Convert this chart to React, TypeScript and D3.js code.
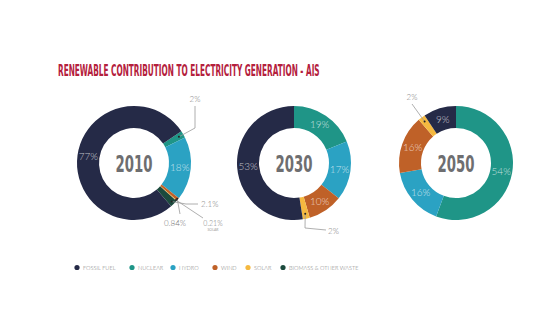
import React, { useLayoutEffect, useRef, useState } from "react";
import * as d3 from "d3";

const categories = ["FOSSIL FUEL", "NUCLEAR", "HYDRO", "WIND", "SOLAR", "BIOMASS & OTHER WASTE"];
const colors = ["#252a47", "#1f9587", "#2ba2c3", "#bf6128", "#f5b940", "#1c4a3d"];
const years = ["2010", "2030", "2050"];
const values2010 = [77, 2, 18, 0.84, 0.21, 2.1];
const values2030 = [53, 19, 17, 10, 2, 0];
const values2050 = [9, 54, 16, 16, 2, 0];
const insideLabels2010 = ["77%", "", "18%", "", "", ""];
const insideLabels2030 = ["53%", "19%", "17%", "10%", "", ""];
const insideLabels2050 = ["9%", "54%", "16%", "16%", "", ""];
const title = "RENEWABLE CONTRIBUTION TO ELECTRICITY GENERATION - AIS";

// drawing order of slices clockwise from start angle
const sliceOrder = [1, 2, 3, 4, 5, 0];

const W = 560;
const H = 322;
const cy = 163;
const centersX = [134, 294, 456];
const rOuter = 57;
const rInner = 35;
const startAngles = [0.98, 0, 0];
const narrow = "'Liberation Sans Narrow', 'DejaVu Sans Condensed', sans-serif";
const light = "Lato, 'Open Sans', sans-serif";

type Ann = { idx: number; r: number; pts: [number, number][]; text: string; tx: number; ty: number; anchor: string; sub?: string };

const annotations: Ann[][] = [
  [
    { idx: 1, r: 52, pts: [[195, 128], [195, 106]], text: "2%", tx: 195, ty: 102, anchor: "middle" },
    { idx: 5, r: 54, pts: [[186, 204], [198, 204]], text: "2.1%", tx: 201, ty: 207, anchor: "start" },
    { idx: 3, r: 56, pts: [[180, 214]], text: "0.84%", tx: 175, ty: 226, anchor: "middle" },
    { idx: 4, r: 56, pts: [[203, 218]], text: "0.21%", tx: 213, ty: 226, anchor: "middle", sub: "SOLAR" },
  ],
  [
    { idx: 4, r: 52, pts: [[305, 228], [326, 230]], text: "2%", tx: 328, ty: 234, anchor: "start" },
  ],
  [
    { idx: 4, r: 52, pts: [[412, 104]], text: "2%", tx: 412, ty: 100, anchor: "middle" },
  ],
];

// Text squeezed horizontally to a target width (measured after layout)
function FitText({ x, y, width, anchor, children, ...rest }: any) {
  const ref = useRef<SVGTextElement>(null);
  const [sx, setSx] = useState(1);
  useLayoutEffect(() => {
    if (ref.current) {
      const len = ref.current.getComputedTextLength();
      if (len > 0) setSx(width / len);
    }
  }, [width]);
  return (
    <g transform={`translate(${x},${y}) scale(${sx},1)`}>
      <text ref={ref} x={0} y={0} textAnchor={anchor} {...rest}>
        {children}
      </text>
    </g>
  );
}

function Donut({ k }: { k: number }) {
  const values = [values2010, values2030, values2050][k];
  const inside = [insideLabels2010, insideLabels2030, insideLabels2050][k];
  const cx = centersX[k];
  const pie = d3
    .pie<number>()
    .value((i) => values[i])
    .sort(null)
    .startAngle(startAngles[k])
    .endAngle(startAngles[k] + Math.PI * 2);
  const arcs = pie(sliceOrder);
  const arc = d3.arc<d3.PieArcDatum<number>>().innerRadius(rInner).outerRadius(rOuter);
  const labelArc = d3.arc<d3.PieArcDatum<number>>().innerRadius(46).outerRadius(46);
  const byIdx: Record<number, d3.PieArcDatum<number>> = {};
  arcs.forEach((a) => (byIdx[a.data] = a));
  return (
    <g>
      <g transform={`translate(${cx},${cy})`}>
        {arcs.map((a) => (
          <path key={a.data} d={arc(a) || ""} fill={colors[a.data]} />
        ))}
        {arcs.map((a) => {
          const t = inside[a.data];
          if (!t) return null;
          const [x, y] = labelArc.centroid(a);
          return (
            <text
              key={"l" + a.data}
              x={x}
              y={y}
              dy="0.36em"
              textAnchor="middle"
              fontFamily={light}
              fontWeight={300}
              fontSize={10}
              fill="#ffffff"
              fillOpacity={0.72}
            >
              {t}
            </text>
          );
        })}
        <FitText
          x={0}
          y={8.5}
          width={37}
          anchor="middle"
          fontFamily={narrow}
          fontWeight={700}
          fontSize={23.5}
          fill="#6e6e70"
        >
          {years[k]}
        </FitText>
      </g>
      {annotations[k].map((an, i) => {
        const a = byIdx[an.idx];
        const mid = (a.startAngle + a.endAngle) / 2;
        const ax = cx + an.r * Math.sin(mid);
        const ay = cy - an.r * Math.cos(mid);
        const pts: [number, number][] = [[ax, ay], ...an.pts];
        return (
          <g key={"a" + i}>
            <polyline points={pts.map((p) => p.join(",")).join(" ")} fill="none" stroke="#9a9a9a" strokeWidth={0.8} />
            <circle cx={ax} cy={ay} r={1} fill="#222" />
            <text
              x={an.tx}
              y={an.ty}
              textAnchor={an.anchor as any}
              fontFamily={light}
              fontWeight={300}
              fontSize={an.sub ? 7 : 8}
              fill="#7a7a7a"
            >
              {an.text}
            </text>
            {an.sub && (
              <text x={an.tx} y={an.ty + 5} textAnchor="middle" fontFamily={light} fontSize={3.5} fill="#9a9a9a">
                {an.sub}
              </text>
            )}
          </g>
        );
      })}
    </g>
  );
}

const legendX = [77, 132, 173, 215, 248, 283];

export default function App() {
  return (
    <svg width={W} height={H} style={{ position: "absolute", left: 0, top: 0, background: "#fff" }}>
      <FitText x={58} y={76} width={262} anchor="start" fontFamily={narrow} fontWeight={700} fontSize={16} fill="#b4203c">
        {title}
      </FitText>
      {years.map((_, k) => (
        <Donut key={k} k={k} />
      ))}
      {categories.map((c, i) => (
        <g key={c}>
          <circle cx={legendX[i]} cy={267.5} r={2.6} fill={colors[i]} />
          <text x={legendX[i] + 6} y={269.5} fontFamily={light} fontWeight={300} fontSize={5.6} fill="#7a7a7a">
            {c}
          </text>
        </g>
      ))}
    </svg>
  );
}
